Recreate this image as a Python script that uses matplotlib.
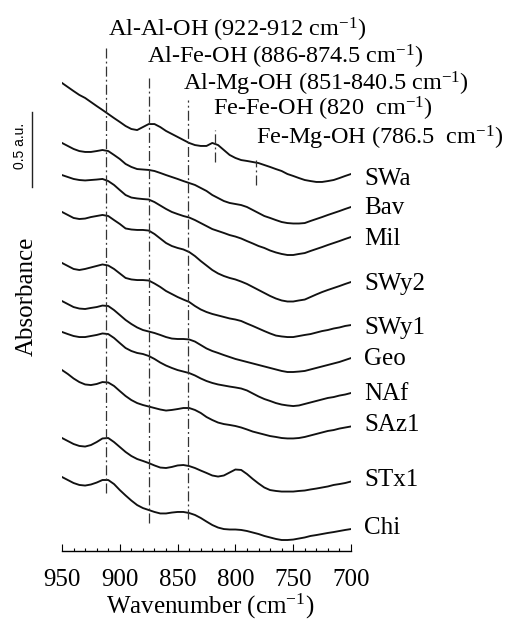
import numpy as np
import matplotlib.pyplot as plt
from matplotlib.ticker import MultipleLocator

plt.rcParams['font.family'] = 'Liberation Serif'
plt.rcParams['mathtext.fontset'] = 'custom'
plt.rcParams['mathtext.rm'] = 'Liberation Serif'
plt.rcParams['mathtext.it'] = 'Liberation Serif:italic'

# wavenumber grid (cm-1), 950 -> 700 every 5
wavenumber = np.arange(950, 699, -5)

# absorbance (a.u., stacked)
swa = [3.447, 3.420, 3.393, 3.367, 3.347, 3.320, 3.293, 3.267, 3.240, 3.213, 3.187, 3.160, 3.140,
       3.133, 3.153, 3.173, 3.173, 3.153, 3.127, 3.107, 3.087, 3.067, 3.047, 3.033, 3.027, 3.027,
       3.047, 3.033, 3.000, 2.967, 2.947, 2.933, 2.927, 2.920, 2.913, 2.900, 2.887, 2.873, 2.860,
       2.840, 2.827, 2.813, 2.800, 2.793, 2.787, 2.787, 2.793, 2.800, 2.813, 2.827, 2.840]
bav = [3.047, 3.027, 3.007, 2.993, 2.987, 2.987, 2.993, 3.000, 2.993, 2.967, 2.940, 2.907, 2.887,
       2.873, 2.870, 2.867, 2.860, 2.847, 2.833, 2.820, 2.807, 2.793, 2.780, 2.767, 2.747, 2.727,
       2.700, 2.680, 2.660, 2.647, 2.640, 2.633, 2.620, 2.600, 2.580, 2.560, 2.547, 2.533, 2.520,
       2.513, 2.510, 2.510, 2.513, 2.527, 2.540, 2.553, 2.567, 2.580, 2.593, 2.607, 2.620]
mil = [2.833, 2.820, 2.807, 2.800, 2.797, 2.800, 2.803, 2.807, 2.793, 2.767, 2.733, 2.700, 2.683,
       2.677, 2.673, 2.670, 2.653, 2.630, 2.607, 2.587, 2.573, 2.560, 2.550, 2.533, 2.513, 2.493,
       2.473, 2.460, 2.447, 2.433, 2.423, 2.410, 2.393, 2.377, 2.360, 2.347, 2.330, 2.317, 2.307,
       2.300, 2.300, 2.307, 2.313, 2.327, 2.340, 2.353, 2.367, 2.380, 2.393, 2.407, 2.420]
swy2 = [2.587, 2.567, 2.547, 2.540, 2.543, 2.553, 2.560, 2.567, 2.560, 2.533, 2.507, 2.477, 2.470,
        2.467, 2.467, 2.463, 2.440, 2.410, 2.380, 2.360, 2.347, 2.337, 2.320, 2.293, 2.260, 2.230,
        2.200, 2.177, 2.160, 2.147, 2.137, 2.123, 2.107, 2.087, 2.067, 2.047, 2.027, 2.010, 1.997,
        1.990, 1.990, 1.997, 2.003, 2.020, 2.037, 2.053, 2.067, 2.080, 2.093, 2.107, 2.120]
swy1 = [2.247, 2.227, 2.207, 2.200, 2.207, 2.217, 2.227, 2.237, 2.230, 2.207, 2.177, 2.147, 2.137,
        2.133, 2.133, 2.130, 2.110, 2.087, 2.060, 2.040, 2.020, 2.003, 1.987, 1.960, 1.937, 1.920,
        1.907, 1.897, 1.887, 1.877, 1.870, 1.860, 1.843, 1.827, 1.810, 1.793, 1.777, 1.763, 1.757,
        1.753, 1.753, 1.760, 1.767, 1.773, 1.783, 1.793, 1.800, 1.810, 1.817, 1.827, 1.833]
geo = [1.993, 1.973, 1.953, 1.943, 1.940, 1.947, 1.953, 1.963, 1.960, 1.933, 1.900, 1.867, 1.840,
       1.817, 1.800, 1.790, 1.780, 1.767, 1.753, 1.743, 1.740, 1.740, 1.737, 1.723, 1.700, 1.677,
       1.660, 1.647, 1.633, 1.620, 1.607, 1.597, 1.587, 1.577, 1.567, 1.557, 1.547, 1.537, 1.527,
       1.520, 1.520, 1.523, 1.527, 1.537, 1.547, 1.557, 1.567, 1.577, 1.587, 1.600, 1.613]
naf = [1.787, 1.773, 1.760, 1.753, 1.753, 1.760, 1.767, 1.777, 1.773, 1.747, 1.713, 1.680, 1.660,
       1.647, 1.640, 1.627, 1.607, 1.583, 1.563, 1.547, 1.533, 1.523, 1.513, 1.497, 1.477, 1.460,
       1.447, 1.437, 1.430, 1.423, 1.417, 1.410, 1.397, 1.377, 1.357, 1.340, 1.327, 1.313, 1.303,
       1.297, 1.293, 1.297, 1.307, 1.317, 1.327, 1.337, 1.347, 1.353, 1.363, 1.370, 1.380]
saz1 = [1.533, 1.507, 1.477, 1.453, 1.437, 1.433, 1.440, 1.453, 1.450, 1.427, 1.393, 1.360, 1.333,
        1.313, 1.300, 1.290, 1.280, 1.270, 1.263, 1.267, 1.273, 1.280, 1.280, 1.267, 1.247, 1.220,
        1.200, 1.183, 1.173, 1.167, 1.160, 1.150, 1.137, 1.123, 1.113, 1.103, 1.093, 1.087, 1.080,
        1.077, 1.077, 1.080, 1.087, 1.097, 1.107, 1.117, 1.127, 1.133, 1.143, 1.150, 1.157]
stx1 = [1.080, 1.060, 1.040, 1.027, 1.023, 1.033, 1.053, 1.077, 1.080, 1.053, 1.020, 0.987, 0.960,
        0.940, 0.927, 0.913, 0.897, 0.883, 0.880, 0.887, 0.897, 0.900, 0.893, 0.880, 0.863, 0.847,
        0.830, 0.823, 0.830, 0.850, 0.870, 0.867, 0.840, 0.807, 0.777, 0.750, 0.733, 0.727, 0.723,
        0.723, 0.723, 0.727, 0.730, 0.737, 0.743, 0.750, 0.757, 0.767, 0.773, 0.780, 0.790]
chi = [0.820, 0.800, 0.780, 0.767, 0.763, 0.770, 0.783, 0.800, 0.800, 0.773, 0.733, 0.697, 0.663,
       0.633, 0.613, 0.600, 0.587, 0.577, 0.577, 0.583, 0.587, 0.587, 0.580, 0.567, 0.547, 0.523,
       0.500, 0.483, 0.473, 0.470, 0.470, 0.467, 0.460, 0.450, 0.440, 0.427, 0.417, 0.407, 0.400,
       0.400, 0.403, 0.410, 0.417, 0.427, 0.433, 0.440, 0.447, 0.453, 0.460, 0.467, 0.473]

samples = ['SWa', 'Bav', 'Mil', 'SWy2', 'SWy1', 'Geo', 'NAf', 'SAz1', 'STx1', 'Chi']
spectra = [swa, bav, mil, swy2, swy1, geo, naf, saz1, stx1, chi]

bands = ['Al-Al-OH (922-912 cm$^{-1}$)', 'Al-Fe-OH (886-874.5 cm$^{-1}$)',
         'Al-Mg-OH (851-840.5 cm$^{-1}$)', 'Fe-Fe-OH (820  cm$^{-1}$)',
         'Fe-Mg-OH (786.5  cm$^{-1}$)']
band_pos = [912, 875, 841, 818, 782]

# layout
line_span = [(0.713, 3.687), (0.513, 3.487), (0.54, 3.333), (2.92, 3.133), (2.767, 2.933)]
band_text_x = [910, 876.5, 845, 819.5, 782.5]
band_text_y = [3.755, 3.578, 3.398, 3.228, 3.035]
sample_text_y = [2.767, 2.573, 2.367, 2.067, 1.773, 1.567, 1.333, 1.127, 0.76, 0.44]

fig = plt.figure(figsize=(5.13, 6.21), dpi=100)
ax = fig.add_axes([62 / 513, 70 / 621, 289 / 513, 531 / 621])

for spec in spectra:
    ax.plot(wavenumber, spec, color='#111111', lw=1.35)

for pos, (y0, y1) in zip(band_pos, line_span):
    ax.plot([pos, pos], [y0, y1], color='#333333', lw=0.9,
            linestyle=(0, (8, 2.5, 1.5, 2.5)))

for txt, x, y in zip(bands, band_text_x, band_text_y):
    ax.text(x, y, txt, fontsize=17.5, ha='left', va='baseline', clip_on=False)

for name, y in zip(samples, sample_text_y):
    ax.text(688.8, y, name, fontsize=18, ha='left', va='baseline', clip_on=False)

# 0.5 a.u. scale bar
ax.plot([976.2, 976.2], [2.753, 3.253], color='#222222', lw=1.0, clip_on=False)
fig.text(20 / 513, 1 - 146 / 621, '0.5 a.u.', family='Liberation Sans', fontsize=10,
         rotation=90, ha='center', va='center')

ax.set_xlim(950, 700)
ax.set_ylim(0.3267, 3.8667)
for s in ['top', 'left', 'right']:
    ax.spines[s].set_visible(False)
ax.spines['bottom'].set_linewidth(1.0)
ax.set_yticks([])
ax.xaxis.set_major_locator(MultipleLocator(50))
ax.xaxis.set_minor_locator(MultipleLocator(10))
ax.tick_params(axis='x', which='major', direction='in', length=5, width=0.8,
               labelsize=18, pad=13)
ax.tick_params(axis='x', which='minor', direction='in', length=2.5, width=0.8)

fig.text(210 / 513, 1 - 614 / 621, 'Wavenumber (cm$^{-1}$)', fontsize=18,
         ha='center', va='baseline')
fig.text(27 / 513, 1 - 296 / 621, 'Absorbance', fontsize=18, rotation=90,
         ha='center', va='center')

fig.savefig('out.png', dpi=100, facecolor='white')
